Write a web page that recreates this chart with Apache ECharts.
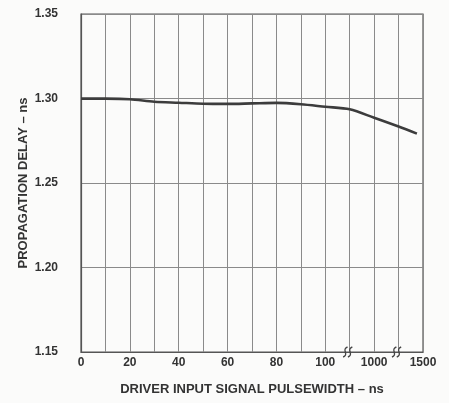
<!DOCTYPE html>
<html>
<head>
<meta charset="utf-8">
<script src="https://cdn.jsdelivr.net/npm/echarts@6/dist/echarts.min.js"></script>
<style>
  html, body { margin: 0; padding: 0; background: #fbfbfa; }
  #chart { width: 449px; height: 403px; }
</style>
</head>
<body>
<div id="chart"></div>
<script>
// Horizontal slots: 0..100 ns in 10 ns steps, then a broken segment to 1000 ns and another to 1500 ns.
const tickLabels = ['0', '', '20', '', '40', '', '60', '', '80', '', '100', '', '1000', '', '1500'];
// Slots where the scale is broken
const breakSlots = [11, 13];
// Curve sample positions (slot units) and propagation delay (ns)
const slotPositions = [0, 1, 2, 3, 4, 5, 6, 7, 8, 9, 10, 11, 12, 13, 13.75];
const delayNs = [1.2999, 1.2999, 1.2996, 1.2981, 1.2975, 1.2969, 1.2968, 1.2971, 1.2974, 1.2966, 1.2951, 1.2936, 1.2886, 1.2834, 1.2792];

const yTicks = [1.15, 1.20, 1.25, 1.30, 1.35];

const ink = '#333333';
const font = 'Liberation Sans, Arial, sans-serif';

// One break glyph: two slanted S strokes, drawn around the point (cx, cy)
function breakMark(cx, cy) {
  const s = (dx) => {
    const x = cx + dx;
    return {
      type: 'bezierCurve',
      shape: { x1: x + 2.2, y1: cy - 5, cpx1: x - 4.5, cpy1: cy - 2.5, cpx2: x + 4.5, cpy2: cy + 2.5, x2: x - 2.2, y2: cy + 5 },
      style: { stroke: '#444', lineWidth: 1.4, fill: null }
    };
  };
  return { type: 'group', children: [s(-2.4), s(2.4)] };
}

const chart = echarts.init(document.getElementById('chart'));
chart.setOption({
  backgroundColor: '#fbfbfa',
  animation: false,
  grid: { left: 81, right: 26, top: 14, bottom: 51, show: true, borderColor: '#555', borderWidth: 1.2, backgroundColor: 'transparent' },
  xAxis: {
    type: 'value',
    min: 0,
    max: tickLabels.length - 1,
    interval: 1,
    name: 'DRIVER INPUT SIGNAL PULSEWIDTH – ns',
    nameLocation: 'middle',
    nameGap: 31,
    nameMoveOverlap: false,
    nameTextStyle: { color: ink, fontFamily: font, fontWeight: 'bold', fontSize: 13 },
    axisLine: { show: true, lineStyle: { color: '#555', width: 1.2 } },
    axisTick: { show: false },
    axisLabel: {
      margin: 5,
      color: ink, fontFamily: font, fontWeight: 'bold', fontSize: 12,
      formatter: v => tickLabels[Math.round(v)] || ''
    },
    splitLine: { show: true, lineStyle: { color: '#8a8a8a', width: 1 } }
  },
  yAxis: {
    type: 'value',
    min: yTicks[0],
    max: yTicks[yTicks.length - 1],
    interval: 0.05,
    name: 'PROPAGATION DELAY – ns',
    nameLocation: 'middle',
    nameGap: 51,
    nameMoveOverlap: false,
    nameTextStyle: { color: ink, fontFamily: font, fontWeight: 'bold', fontSize: 13 },
    axisLine: { show: true, lineStyle: { color: '#555', width: 1.2 } },
    axisTick: { show: false },
    axisLabel: {
      margin: 23,
      color: ink, fontFamily: font, fontWeight: 'bold', fontSize: 12,
      formatter: v => v.toFixed(2)
    },
    splitLine: { show: true, lineStyle: { color: '#8a8a8a', width: 1 } }
  },
  series: [
    {
      type: 'line',
      data: slotPositions.map((x, i) => [x, delayNs[i]]),
      smooth: 0.3,
      showSymbol: false,
      lineStyle: { color: '#3c3c3c', width: 2.6 },
      z: 5
    },
    {
      // scale-break marks on the horizontal axis
      type: 'custom',
      data: breakSlots.map(s => [s, yTicks[0]]),
      silent: true,
      clip: false,
      z: 6,
      renderItem: (params, api) => {
        const p = api.coord([api.value(0), api.value(1)]);
        return breakMark(p[0] - 2, p[1]);
      }
    }
  ]
});
</script>
</body>
</html>
